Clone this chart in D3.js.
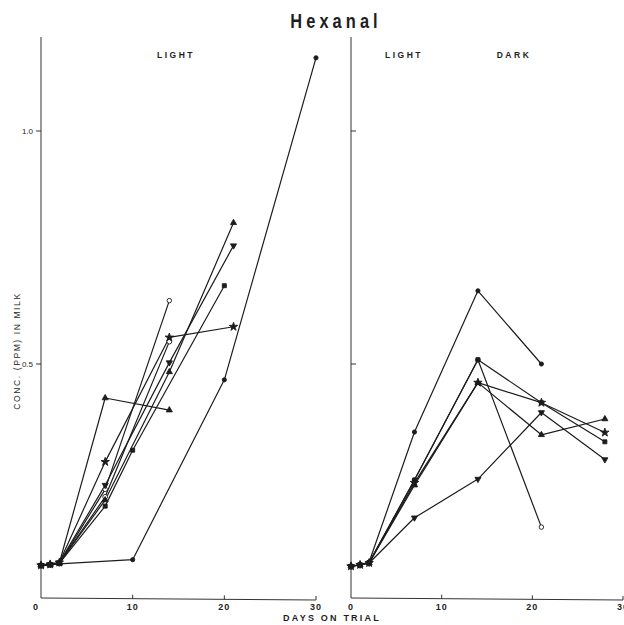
<!DOCTYPE html>
<html>
<head>
<meta charset="utf-8">
<script src="https://cdn.jsdelivr.net/npm/d3@7/dist/d3.min.js"></script>
<style>
  html, body { margin: 0; padding: 0; background: #fff; }
  svg { display: block; }
  text { font-family: "Liberation Sans", Arial, sans-serif; fill: #1e1e1e; }
</style>
</head>
<body>
<script>
// Hexanal concentration (ppm) in milk vs. days on trial

// Tick values and labels
const xTicks = [0, 10, 20, 30];
const yTicks = [0.5, 1.0];
const yTickLabels = ["0.5", "1.0"];

// LIGHT panel series: [day, ppm]
const lightFilledCircle = [[0, 0.068], [1, 0.069], [2, 0.071], [10, 0.08], [20, 0.466], [30, 1.157]];
const lightOpenCircle   = [[0, 0.068], [1, 0.070], [2, 0.072], [7, 0.231], [14, 0.636]];
const lightTriShort     = [[0, 0.068], [1, 0.070], [2, 0.073], [7, 0.427], [14, 0.401]];
const lightTriangle     = [[0, 0.068], [1, 0.070], [2, 0.073], [7, 0.208], [14, 0.483], [21, 0.803]];
const lightInvTriangle  = [[0, 0.068], [1, 0.070], [2, 0.074], [7, 0.240], [14, 0.503], [21, 0.754]];
const lightStar         = [[0, 0.068], [1, 0.070], [2, 0.074], [7, 0.290], [14, 0.557], [21, 0.580]];
const lightSquare       = [[0, 0.068], [1, 0.069], [2, 0.072], [7, 0.195], [10, 0.315], [20, 0.668]];
const lightHalfCircle   = [[0, 0.068], [1, 0.070], [2, 0.073], [7, 0.215], [14, 0.548]];

// LIGHT / DARK panel series: [day, ppm]
const darkFilledCircle = [[0, 0.066], [1, 0.069], [2, 0.075], [7, 0.354], [14, 0.657], [21, 0.500]];
const darkOpenCircle   = [[0, 0.066], [1, 0.069], [2, 0.074], [7, 0.251], [14, 0.509], [21, 0.150]];
const darkSquare       = [[0, 0.066], [1, 0.069], [2, 0.074], [7, 0.251], [14, 0.509], [21, 0.417], [28, 0.333]];
const darkStar         = [[0, 0.066], [1, 0.069], [2, 0.073], [7, 0.245], [14, 0.460], [21, 0.417], [28, 0.353]];
const darkTriangle     = [[0, 0.066], [1, 0.069], [2, 0.073], [7, 0.240], [14, 0.460], [21, 0.348], [28, 0.382]];
const darkInvTriangle  = [[0, 0.066], [1, 0.069], [2, 0.073], [7, 0.170], [14, 0.253], [21, 0.396], [28, 0.295]];

const W = 624, H = 625;
const svg = d3.select("body").append("svg").attr("width", W).attr("height", H);

const y = d3.scaleLinear().domain([0, 1]).range([597, 131]);
const xLeft = d3.scaleLinear().domain([0, 30]).range([41, 316]);
const xRight = d3.scaleLinear().domain([0, 30]).range([351, 623]);
const axisTop = 37, axisBottom = 598;

const ink = "#1c1c1c";

// marker shapes
const markers = {
  filledCircle: { type: d3.symbolCircle, size: 14, fill: ink },
  openCircle:   { type: d3.symbolCircle, size: 16, fill: "#fff" },
  halfCircle:   { type: d3.symbolCircle, size: 18, fill: "#fff" },
  square:       { type: d3.symbolSquare, size: 16, fill: ink },
  triangle:     { type: d3.symbolTriangle, size: 16, fill: ink },
  invTriangle:  { type: d3.symbolTriangle, size: 16, fill: ink, rotate: 180 },
  star:         { type: d3.symbolStar, size: 22, fill: ink }
};

function drawPanel(x, series, tickSide, showLabels) {
  const g = svg.append("g");
  // vertical axis
  g.append("line").attr("x1", x(0)).attr("x2", x(0))
    .attr("y1", axisTop).attr("y2", axisBottom)
    .attr("stroke", "#333").attr("stroke-width", 1);
  // horizontal axis
  g.append("line").attr("x1", x(0)).attr("x2", x(30))
    .attr("y1", axisBottom).attr("y2", axisBottom + 2)
    .attr("stroke", "#333").attr("stroke-width", 1);
  // x ticks (pointing up)
  xTicks.filter(d => d > 0).forEach(d => {
    const yy = axisBottom + 2 * d / 30;
    g.append("line").attr("x1", x(d)).attr("x2", x(d))
      .attr("y1", yy).attr("y2", yy - 4)
      .attr("stroke", "#333").attr("stroke-width", 1);
  });
  // y ticks
  yTicks.forEach((v, i) => {
    g.append("line").attr("x1", x(0)).attr("x2", x(0) + tickSide * 5)
      .attr("y1", y(v)).attr("y2", y(v))
      .attr("stroke", "#333").attr("stroke-width", 1);
    if (showLabels) {
      g.append("text").attr("x", x(0) - 8).attr("y", y(v) + 3)
        .attr("text-anchor", "end").attr("font-size", 8)
        .text(yTickLabels[i]);
    }
  });

  const line = d3.line().x(d => x(d[0])).y(d => y(d[1]));
  series.forEach(s => {
    g.append("path").attr("d", line(s.data))
      .attr("fill", "none").attr("stroke", ink).attr("stroke-width", 1.2)
      .attr("stroke-linejoin", "round");
  });
  // hollow markers first so the filled ones sit on top in the starting cluster
  const ordered = series.slice().sort((a, b) =>
    (markers[b.marker].fill === "#fff") - (markers[a.marker].fill === "#fff"));
  ordered.forEach(s => {
    const m = markers[s.marker];
    const sym = d3.symbol().type(m.type).size(m.size);
    g.selectAll(null).data(s.data).enter().append("path")
      .attr("d", sym)
      .attr("transform", d => `translate(${x(d[0])},${y(d[1])}) rotate(${m.rotate || 0})`)
      .attr("fill", m.fill).attr("stroke", ink).attr("stroke-width", 0.9);
  });
}

drawPanel(xLeft, [
  { data: lightFilledCircle, marker: "filledCircle" },
  { data: lightOpenCircle, marker: "openCircle" },
  { data: lightTriShort, marker: "triangle" },
  { data: lightTriangle, marker: "triangle" },
  { data: lightInvTriangle, marker: "invTriangle" },
  { data: lightStar, marker: "star" },
  { data: lightSquare, marker: "square" },
  { data: lightHalfCircle, marker: "halfCircle" }
], -1, true);

drawPanel(xRight, [
  { data: darkFilledCircle, marker: "filledCircle" },
  { data: darkOpenCircle, marker: "openCircle" },
  { data: darkSquare, marker: "square" },
  { data: darkStar, marker: "star" },
  { data: darkTriangle, marker: "triangle" },
  { data: darkInvTriangle, marker: "invTriangle" }
], 1, false);

// x tick labels
function tickLabels(x, leftZeroShift) {
  xTicks.forEach(d => {
    svg.append("text")
      .attr("x", x(d) + (d === 0 ? leftZeroShift : 0)).attr("y", 610)
      .attr("text-anchor", "middle").attr("font-size", 9).attr("font-weight", "bold")
      .attr("letter-spacing", 1)
      .text(String(d));
  });
}
tickLabels(xLeft, -5);
tickLabels(xRight, 0);

// axis titles
svg.append("text").attr("x", 332).attr("y", 621)
  .attr("text-anchor", "middle").attr("font-size", 9).attr("font-weight", "bold")
  .attr("letter-spacing", 2.2).text("DAYS ON TRIAL");

svg.append("text").attr("transform", "translate(20,351) rotate(-90)")
  .attr("text-anchor", "middle").attr("font-size", 8.5)
  .attr("letter-spacing", 1.6).text("CONC. (PPM) IN MILK");

// panel captions
const caption = (cx, label) => svg.append("text").attr("x", cx).attr("y", 58)
  .attr("text-anchor", "middle").attr("font-size", 8.5).attr("font-weight", 600)
  .attr("letter-spacing", 2.5).text(label);
caption(176, "LIGHT");
caption(404, "LIGHT");
caption(514, "DARK");

// title, condensed bold lettering
svg.append("text").attr("transform", "translate(336,28) scale(0.82,1)")
  .attr("text-anchor", "middle").attr("font-size", 20).attr("font-weight", "bold")
  .attr("letter-spacing", 5)
  .text("Hexanal");
</script>
</body>
</html>
